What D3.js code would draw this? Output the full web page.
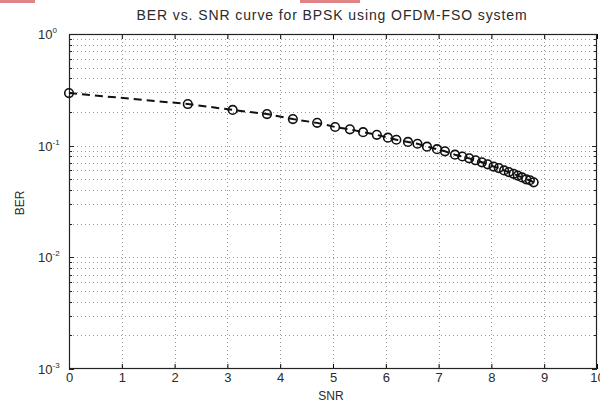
<!DOCTYPE html>
<html>
<head>
<meta charset="utf-8">
<script src="https://cdn.jsdelivr.net/npm/d3@7"></script>
<style>
  html, body { margin: 0; padding: 0; background: #fff; }
  svg { display: block; }
  text { font-family: "Liberation Sans", Arial, sans-serif; fill: #2a2a2a; }
</style>
</head>
<body>
<svg id="chart" width="600" height="403"></svg>
<script>
// ---- data ----
const snr = [0, 2.25, 3.1, 3.75, 4.24, 4.7, 5.04, 5.32, 5.57, 5.83, 6.04, 6.2, 6.42, 6.6, 6.78, 6.97, 7.12, 7.31,
             7.45, 7.58, 7.7, 7.82, 7.93, 8.04, 8.14, 8.24, 8.33, 8.42, 8.5, 8.58, 8.66, 8.73, 8.8];
const ber = [0.296, 0.236, 0.209, 0.192, 0.173, 0.160, 0.147, 0.140, 0.132, 0.125, 0.118, 0.113, 0.108, 0.104, 0.098, 0.093, 0.089, 0.083,
             0.080, 0.077, 0.074, 0.071, 0.068, 0.065, 0.063, 0.060, 0.058, 0.056, 0.054, 0.052, 0.050, 0.049, 0.047];
const xTicks = [0, 1, 2, 3, 4, 5, 6, 7, 8, 9, 10];
const yTickExps = [0, -1, -2, -3];
const titleText = "BER vs. SNR curve for BPSK using OFDM-FSO system";
const xLabel = "SNR";
const yLabel = "BER";

// ---- layout ----
const L = 69, R = 597, T = 34, B = 369;
const svg = d3.select("#chart");

// artifacts at the top edge of the reference image
svg.append("rect").attr("x", 0).attr("y", 0).attr("width", 35).attr("height", 3).attr("fill", "#e08585");
svg.append("rect").attr("x", 300).attr("y", 0).attr("width", 60).attr("height", 3).attr("fill", "#e08585");

const x = d3.scaleLinear().domain([0, 10]).range([L, R]);
const y = d3.scaleLog().domain([1e-3, 1]).range([B, T]);

// minor/major log ticks
const logTicks = [];
for (let e = -3; e < 0; e++) {
  for (let m = 1; m <= 9; m++) logTicks.push(m * Math.pow(10, e));
}
logTicks.push(1);

// grid
const grid = svg.append("g").attr("stroke", "#999").attr("stroke-width", 1)
  .attr("stroke-dasharray", "1,3");
grid.selectAll("line.gx").data(xTicks.slice(1, -1)).join("line")
  .attr("x1", d => Math.round(x(d)) + 0.5).attr("x2", d => Math.round(x(d)) + 0.5)
  .attr("y1", T).attr("y2", B);
grid.selectAll("line.gy").data(logTicks.filter(v => v > 1e-3 && v < 1)).join("line")
  .attr("x1", L).attr("x2", R)
  .attr("y1", d => Math.round(y(d)) + 0.5).attr("y2", d => Math.round(y(d)) + 0.5);

// axes
const tickFmt = d3.format("d");
svg.append("g").attr("transform", `translate(0,${B})`)
  .call(d3.axisBottom(x).tickValues(xTicks).tickFormat(tickFmt).tickSizeInner(-5).tickSizeOuter(0).tickPadding(4))
  .call(g => g.select(".domain").remove())
  .call(g => g.selectAll("text").attr("font-size", 13).attr("font-family", "Liberation Sans, Arial, sans-serif").attr("fill", "#2a2a2a"));
svg.append("g").attr("transform", `translate(0,${T})`)
  .call(d3.axisTop(x).tickValues(xTicks).tickFormat("").tickSizeInner(-5).tickSizeOuter(0))
  .call(g => g.select(".domain").remove());

// y ticks (left and right): major longer, minor shorter
const yt = svg.append("g").attr("stroke", "#222").attr("stroke-width", 1);
const isMajor = v => Math.abs(Math.log10(v) - Math.round(Math.log10(v))) < 1e-9;
yt.selectAll("line.l").data(logTicks).join("line")
  .attr("x1", L).attr("x2", d => L + (isMajor(d) ? 5 : 3))
  .attr("y1", d => Math.round(y(d)) + 0.5).attr("y2", d => Math.round(y(d)) + 0.5);
yt.selectAll("line.r").data(logTicks).join("line")
  .attr("x1", R).attr("x2", d => R - (isMajor(d) ? 5 : 3))
  .attr("y1", d => Math.round(y(d)) + 0.5).attr("y2", d => Math.round(y(d)) + 0.5);

// y tick labels 10^e
const yl = svg.append("g");
yTickExps.forEach(e => {
  const t = yl.append("text").attr("x", 38).attr("y", y(Math.pow(10, e)) + 5).attr("font-size", 13);
  t.append("tspan").text("10");
  t.append("tspan").attr("font-size", 8).attr("dy", -6).text(String(e));
});

// box
svg.append("rect").attr("x", L + 0.5).attr("y", T + 0.5).attr("width", R - L - 1).attr("height", B - T - 1)
  .attr("fill", "none").attr("stroke", "#222").attr("stroke-width", 1.2);

// curve
const pts = snr.map((s, i) => [s, ber[i]]);
svg.append("path").datum(pts)
  .attr("d", d3.line().x(d => x(d[0])).y(d => y(d[1])))
  .attr("fill", "none").attr("stroke", "#111").attr("stroke-width", 2)
  .attr("stroke-dasharray", "8,5");
svg.append("g").selectAll("circle").data(pts).join("circle")
  .attr("cx", d => x(d[0])).attr("cy", d => y(d[1])).attr("r", 4.3)
  .attr("fill", "none").attr("stroke", "#111").attr("stroke-width", 1.6);

// title and labels
svg.append("text").attr("x", 332).attr("y", 20).attr("text-anchor", "middle")
  .attr("font-size", 14).attr("letter-spacing", 0.9).text(titleText);
svg.append("text").attr("x", 331).attr("y", 400).attr("text-anchor", "middle")
  .attr("font-size", 12).text(xLabel);
svg.append("text").attr("transform", "translate(24,203) rotate(-90)").attr("text-anchor", "middle")
  .attr("font-size", 12).text(yLabel);
</script>
</body>
</html>
